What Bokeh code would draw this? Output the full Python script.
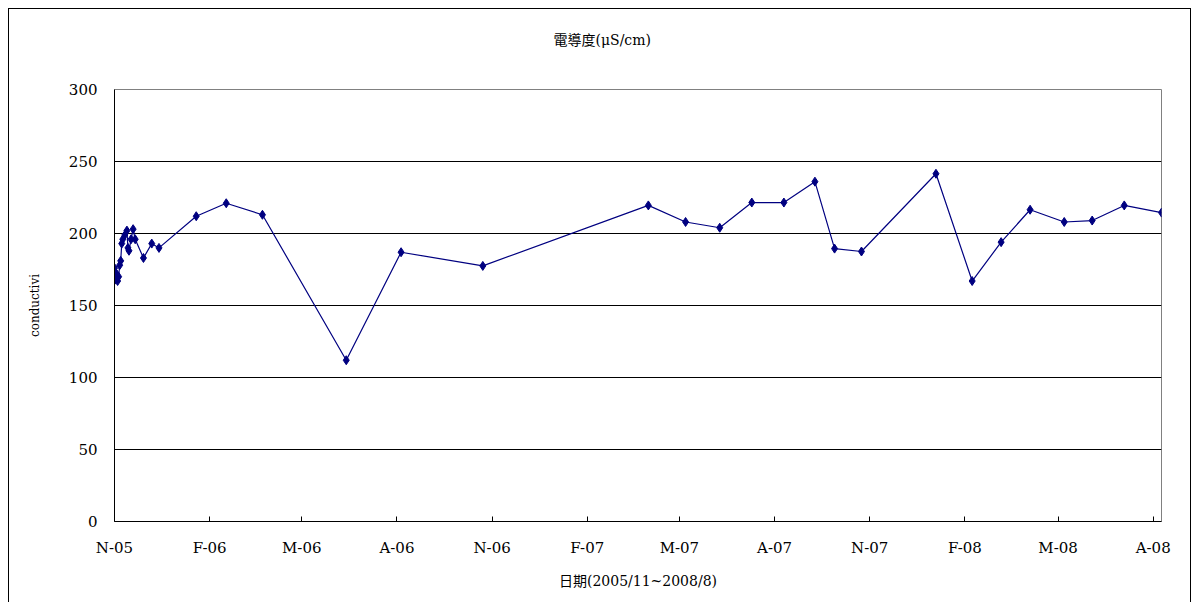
from datetime import datetime
from bokeh.plotting import figure
from bokeh.models import Range1d, FixedTicker, DatetimeAxis, Title, ColumnDataSource
from bokeh.embed import file_html
from bokeh.resources import INLINE

# ---- data ----
dates = [
    "2005-11-01", "2005-11-02", "2005-11-03", "2005-11-04", "2005-11-05",
    "2005-11-06", "2005-11-07", "2005-11-08", "2005-11-09", "2005-11-11",
    "2005-11-13", "2005-11-14", "2005-11-15", "2005-11-17", "2005-11-19",
    "2005-11-21", "2005-11-29", "2005-12-07", "2005-12-14", "2006-01-19",
    "2006-02-17", "2006-03-24", "2006-06-13", "2006-08-05", "2006-10-23",
    "2007-04-01", "2007-05-07", "2007-06-09", "2007-07-10", "2007-08-10",
    "2007-09-09", "2007-09-28", "2007-10-24", "2008-01-04", "2008-02-08",
    "2008-03-07", "2008-04-04", "2008-05-07", "2008-06-03", "2008-07-04",
    "2008-08-09",
]
conductivity = [
    176, 168, 172, 167, 170,
    178, 181, 193, 196, 199,
    202, 190, 188, 196, 203,
    196, 183, 193, 190, 212,
    221, 213, 112, 187, 177.5,
    219.5, 208, 204, 221.5, 221.5,
    236, 189.5, 187.5, 241.5, 167,
    194, 216.5, 208, 209, 219.5,
    214.5,
]
tick_dates = [
    "2005-11-01", "2006-02-01", "2006-05-01", "2006-08-01", "2006-11-01",
    "2007-02-01", "2007-05-01", "2007-08-01", "2007-11-01", "2008-02-01",
    "2008-05-01", "2008-08-01",
]
tick_labels = ["N-05", "F-06", "M-06", "A-06", "N-06", "F-07", "M-07",
               "A-07", "N-07", "F-08", "M-08", "A-08"]
y_ticks = [0, 50, 100, 150, 200, 250, 300]

title_text = "電導度(μS/cm)"
x_title = "日期(2005/11~2008/8)"
y_title = "conductivi"

x_start = "2005-11-01"
x_end = "2008-08-09"


def ms(s):
    return (datetime.strptime(s, "%Y-%m-%d") - datetime(1970, 1, 1)).total_seconds() * 1000.0


xs = [datetime.strptime(d, "%Y-%m-%d") for d in dates]
src = ColumnDataSource(data=dict(x=xs, y=conductivity))

FONT = "'DejaVu Serif', 'Noto Sans CJK TC', serif"

p = figure(width=1183, height=594, x_axis_type="datetime",
           output_backend="svg", toolbar_location=None,
           x_range=Range1d(ms(x_start), ms(x_end)), y_range=Range1d(0, 300),
           min_border_left=106, min_border_right=30, min_border_top=81,
           min_border_bottom=81)
p.title.text = ""

p.line("x", "y", source=src, line_color="#000080", line_width=1.2)
p.scatter("x", "y", source=src, marker="diamond", size=9,
          fill_color="#000080", line_color="#000080")

tick_ms = [ms(t) for t in tick_dates]
p.xaxis.ticker = FixedTicker(ticks=tick_ms)
p.xaxis.major_label_overrides = {t: l for t, l in zip(tick_ms, tick_labels)}
p.yaxis.ticker = FixedTicker(ticks=y_ticks)

for ax in (p.xaxis[0], p.yaxis[0]):
    ax.axis_line_color = "black"
    ax.axis_line_width = 1
    ax.major_label_text_font = FONT
    ax.major_label_text_font_size = "15px"
    ax.major_label_text_color = "black"
    ax.axis_label_text_font = FONT
    ax.axis_label_text_font_size = "14px"
    ax.axis_label_text_font_style = "normal"
    ax.axis_label_text_color = "black"
    ax.minor_tick_line_color = None

p.xaxis.major_tick_in = 5
p.xaxis.major_tick_out = 0
p.xaxis.major_tick_line_color = "black"
p.xaxis.major_label_standoff = 17
p.xaxis.axis_label = x_title
p.xaxis.axis_label_standoff = 13

p.yaxis.major_tick_in = 0
p.yaxis.major_tick_out = 0
p.yaxis.major_label_standoff = 17
p.yaxis.axis_label = y_title
p.yaxis.axis_label_text_font_size = "12px"
p.yaxis.axis_label_standoff = 24

# invisible spacer axis right above the frame, with the title stacked above it
spacer = DatetimeAxis(ticker=FixedTicker(ticks=tick_ms[:1]),
                      major_label_overrides={tick_ms[0]: ""},
                      axis_line_color=None, major_tick_line_color=None,
                      minor_tick_line_color=None, major_tick_in=0,
                      major_tick_out=37, major_label_standoff=0)
chart_title = Title(text=title_text, align="left", offset=439,
                    text_font=FONT, text_font_size="14px",
                    text_font_style="normal", text_color="black", standoff=10)
p.above = [spacer, chart_title]

p.xgrid.grid_line_color = None
p.ygrid.grid_line_color = "black"
p.ygrid.grid_line_width = 1

p.outline_line_color = "#808080"
p.outline_line_width = 1
p.background_fill_color = "white"
p.border_fill_color = "white"
p.border_fill_alpha = 0.0

p.styles = {
    "margin-left": "8px",
    "margin-top": "8px",
    "background-color": "white",
    "box-shadow": "inset 1px 1px 0 0 black, inset -1px 0 0 0 black",
}

open("out.html", "w").write(file_html(p, INLINE))
